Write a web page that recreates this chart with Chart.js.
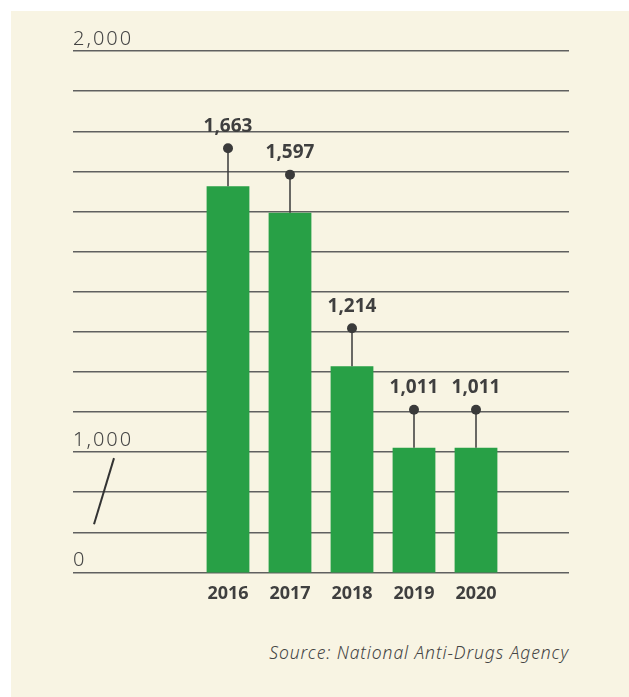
<!DOCTYPE html>
<html>
<head>
<meta charset="utf-8">
<title>Drug cases 2016-2020</title>
<script src="https://cdn.jsdelivr.net/npm/chart.js@4"></script>
<style>
  body { margin: 0; background: #ffffff; }
  #panel { position: absolute; left: 11px; top: 11px; width: 618px; height: 686px; background: #f8f4e3; }
  #wrap { position: absolute; left: 0; top: 0; width: 629px; height: 640px; }
  #source { position: absolute; right: 60px; top: 640px; font-family: 'Noto Sans', sans-serif; font-style: italic; font-weight: 300; font-size: 17.5px; letter-spacing: 0.9px; color: #444; }
</style>
</head>
<body>
<div id="panel"></div>
<div id="wrap"><canvas id="myCanvas"></canvas></div>
<div id="source">Source: National Anti-Drugs Agency</div>
<script>
'use strict';

// data
const years = ['2016', '2017', '2018', '2019', '2020'];
const cases = [1663, 1597, 1214, 1011, 1011];

// broken axis: the bottom line stands for 0
const tickValues = [700, 1000, 2000];
const tickLabels = ['0', '1,000', '2,000'];

// two empty slots on the left, one on the right
const slots = ['', ''].concat(years, ['']);
const slotValues = [null, null].concat(cases, [null]);

const textColor = '#3f3f3f';

// wider spacing for the y labels only (they are drawn before the bars)
const spacing = {
  id: 'spacing',
  beforeDraw(chart) { chart.ctx.letterSpacing = '2px'; },
  beforeDatasetsDraw(chart) { chart.ctx.letterSpacing = '0px'; }
};

// lollipop on top of each bar + value label
const lollipops = {
  id: 'lollipops',
  afterDatasetsDraw(chart) {
    const ctx = chart.ctx;
    const meta = chart.getDatasetMeta(0);
    ctx.save();
    meta.data.forEach(function (bar, i) {
      if (slotValues[i] === null) return;
      let dotY = bar.y - 38;
      ctx.strokeStyle = '#3a3a3a';
      ctx.lineWidth = 1.5;
      ctx.beginPath();
      ctx.moveTo(bar.x, bar.y);
      ctx.lineTo(bar.x, dotY);
      ctx.stroke();
      ctx.fillStyle = '#3a3a3a';
      ctx.beginPath();
      ctx.arc(bar.x, dotY, 5, 0, Math.PI * 2);
      ctx.fill();
      ctx.fillStyle = textColor;
      ctx.font = 'bold 19px "Noto Sans"';
      ctx.textAlign = 'center';
      ctx.textBaseline = 'middle';
      ctx.fillText(slotValues[i].toLocaleString('en-US'), bar.x, dotY - 22);
    });
    ctx.restore();
  }
};

// the little slash that marks the axis break
const axisBreak = {
  id: 'axisBreak',
  afterDraw(chart) {
    const ctx = chart.ctx;
    const y = chart.scales.y;
    const left = chart.chartArea.left;
    ctx.save();
    ctx.strokeStyle = '#333';
    ctx.lineWidth = 2;
    ctx.beginPath();
    ctx.moveTo(left + 41, y.getPixelForValue(985));
    ctx.lineTo(left + 21, y.getPixelForValue(820));
    ctx.stroke();
    ctx.restore();
  }
};

Chart.defaults.font.family = '"Noto Sans"';

const config = {
  type: 'bar',
  data: {
    labels: slots,
    datasets: [{
      data: slotValues,
      backgroundColor: '#28a046',
      barPercentage: 0.69,
      categoryPercentage: 1
    }]
  },
  options: {
    responsive: true,
    maintainAspectRatio: false,
    animation: false,
    layout: { padding: { left: 73, right: 60, top: 51, bottom: 24 } },
    plugins: { legend: { display: false }, tooltip: { enabled: false } },
    scales: {
      x: {
        grid: { display: false, drawTicks: false },
        border: { display: false },
        ticks: { z: 1, color: textColor, font: { size: 18, weight: 'bold' }, padding: 11, maxRotation: 0, autoSkip: false }
      },
      y: {
        min: 700,
        max: 2000,
        grid: { color: '#606060', lineWidth: 1.4, drawTicks: false },
        border: { display: false },
        ticks: {
          stepSize: 100,
          mirror: true,
          padding: 0,
          labelOffset: -12,
          color: '#444',
          font: { size: 20, weight: 300 },
          callback: function (value) {
            let i = tickValues.indexOf(value);
            return i === -1 ? '' : tickLabels[i];
          }
        }
      }
    }
  },
  plugins: [spacing, lollipops, axisBreak]
};

const chart = document.getElementById('myCanvas');
const myChart = new Chart(chart, config);
</script>
</body>
</html>
